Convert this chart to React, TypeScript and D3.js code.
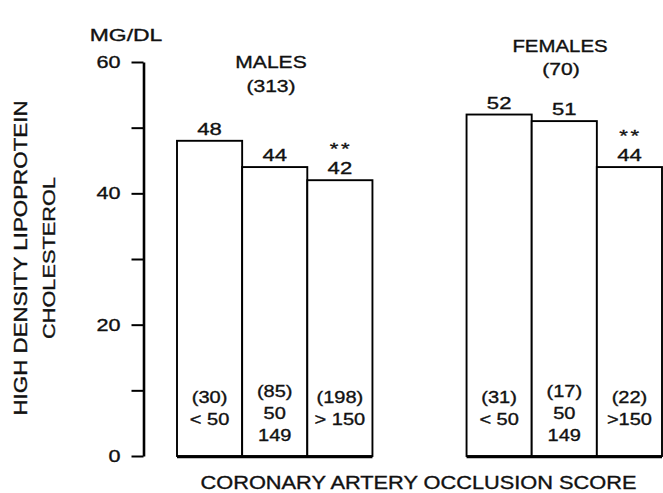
import * as React from 'react'
import { useEffect, useRef } from 'react'
import * as d3 from 'd3'

// data
const groups = ['MALES', 'FEMALES']
const groupN = ['(313)', '(70)']
const scores = ['<50', '50-149', '>150']
const malesHdl = [48, 44, 42]
const femalesHdl = [52, 51, 44]
const malesN = ['(30)', '(85)', '(198)']
const femalesN = ['(31)', '(17)', '(22)']
const maleScoreLines = [['< 50'], ['50', '149'], ['> 150']]
const femaleScoreLines = [['< 50'], ['50', '149'], ['>150']]
const significant = [false, false, true]
const labelTicks = [0, 20, 40, 60]
const allTicks = [0, 10, 20, 30, 40, 50, 60]

const font = '"Liberation Sans", Arial, Helvetica, sans-serif'

const App = () => {
  const ref = useRef<SVGSVGElement | null>(null)
  const width = 663
  const height = 493

  useEffect(() => {
    const svg = d3.select(ref.current)
    svg.selectAll('*').remove()

    const y = d3.scaleLinear().domain([0, 60]).range([456, 62])
    const x0 = d3.scaleBand().domain(groups).range([177, 662]).paddingInner(0.325)
    const x1 = d3.scaleBand().domain(scores).range([0, x0.bandwidth()])

    const g = svg.append('g').style('font-family', font).attr('fill', '#111')

    // the original lettering is an extended grotesque, so stretch it sideways
    const label = (sel: any, x: number, yy: number, txt: string, size: number, sx: number, anchor = 'middle') =>
      sel.append('text')
        .attr('transform', `translate(${x},${yy}) scale(${sx},1)`)
        .attr('text-anchor', anchor)
        .attr('font-size', size)
        .attr('stroke', '#111').attr('stroke-width', 0.35)
        .text(txt)

    // y axis
    const axis = g.append('g').attr('transform', 'translate(143.5,0)')
      .call(d3.axisLeft(y).tickValues(allTicks).tickSize(12).tickSizeOuter(0)
        .tickFormat((d: any) => (labelTicks.includes(d) ? String(d) : '')))
    axis.select('.domain').attr('stroke-width', 2.6)
    axis.selectAll('.tick line').attr('stroke-width', 2)
    axis.selectAll('.tick text')
      .attr('x', null)
      .attr('transform', 'translate(-23,0) scale(1.27,1)')
      .attr('font-size', 17).attr('font-family', font).attr('fill', '#111')
      .attr('stroke', '#111').attr('stroke-width', 0.35)

    label(g, 126, 41, 'MG/DL', 17, 1.35)

    // rotated y title
    const yt = g.append('g').attr('transform', 'translate(0,258) rotate(-90)')
    label(yt, 0, 27, 'HIGH DENSITY LIPOPROTEIN', 18.5, 1.21)
    label(yt, 0, 55, 'CHOLESTEROL', 17, 1.28)

    const series = [
      { values: malesHdl, n: malesN, lines: maleScoreLines },
      { values: femalesHdl, n: femalesN, lines: femaleScoreLines },
    ]

    series.forEach((s, gi) => {
      const gx = x0(groups[gi]) as number
      const grp = g.append('g').attr('transform', `translate(${gx},0)`)

      grp.selectAll('rect').data(s.values).enter().append('rect')
        .attr('x', (d, i) => x1(scores[i]) as number)
        .attr('y', d => y(d))
        .attr('width', x1.bandwidth())
        .attr('height', d => y(0) - y(d))
        .attr('fill', '#fff').attr('stroke', '#000').attr('stroke-width', 1.9)

      grp.append('line')
        .attr('x1', 0).attr('x2', x0.bandwidth())
        .attr('y1', y(0) + 1).attr('y2', y(0) + 1)
        .attr('stroke', '#000').attr('stroke-width', 2.4)

      s.values.forEach((d, i) => {
        const cx = (x1(scores[i]) as number) + x1.bandwidth() / 2
        label(grp, cx, y(d) - 6, String(d), 17, 1.3)
        if (significant[i]) {
          label(grp, cx + 1, y(d) - 25, '**', 17, 1.3).attr('letter-spacing', 2)
        }

        const top = i === 1 ? 397 : 403
        label(grp, cx, top, s.n[i], 16, 1.25)
        s.lines[i].forEach((l, li) => {
          label(grp, cx, top + 22 * (li + 1), l, 16, 1.25)
        })
      })
    })

    label(g, 271, 68, groups[0], 17, 1.24)
    label(g, 271, 92, groupN[0], 17, 1.24)
    label(g, 560, 52, groups[1], 17, 1.2)
    label(g, 561, 75, groupN[1], 17, 1.24)

    label(g, 418.5, 489, 'CORONARY ARTERY OCCLUSION SCORE', 18, 1.21)
  }, [])

  return (
    <svg ref={ref} width={width} height={height}
      style={{ position: 'absolute', left: 0, top: 0, background: '#fff' }} />
  )
}

export default App
